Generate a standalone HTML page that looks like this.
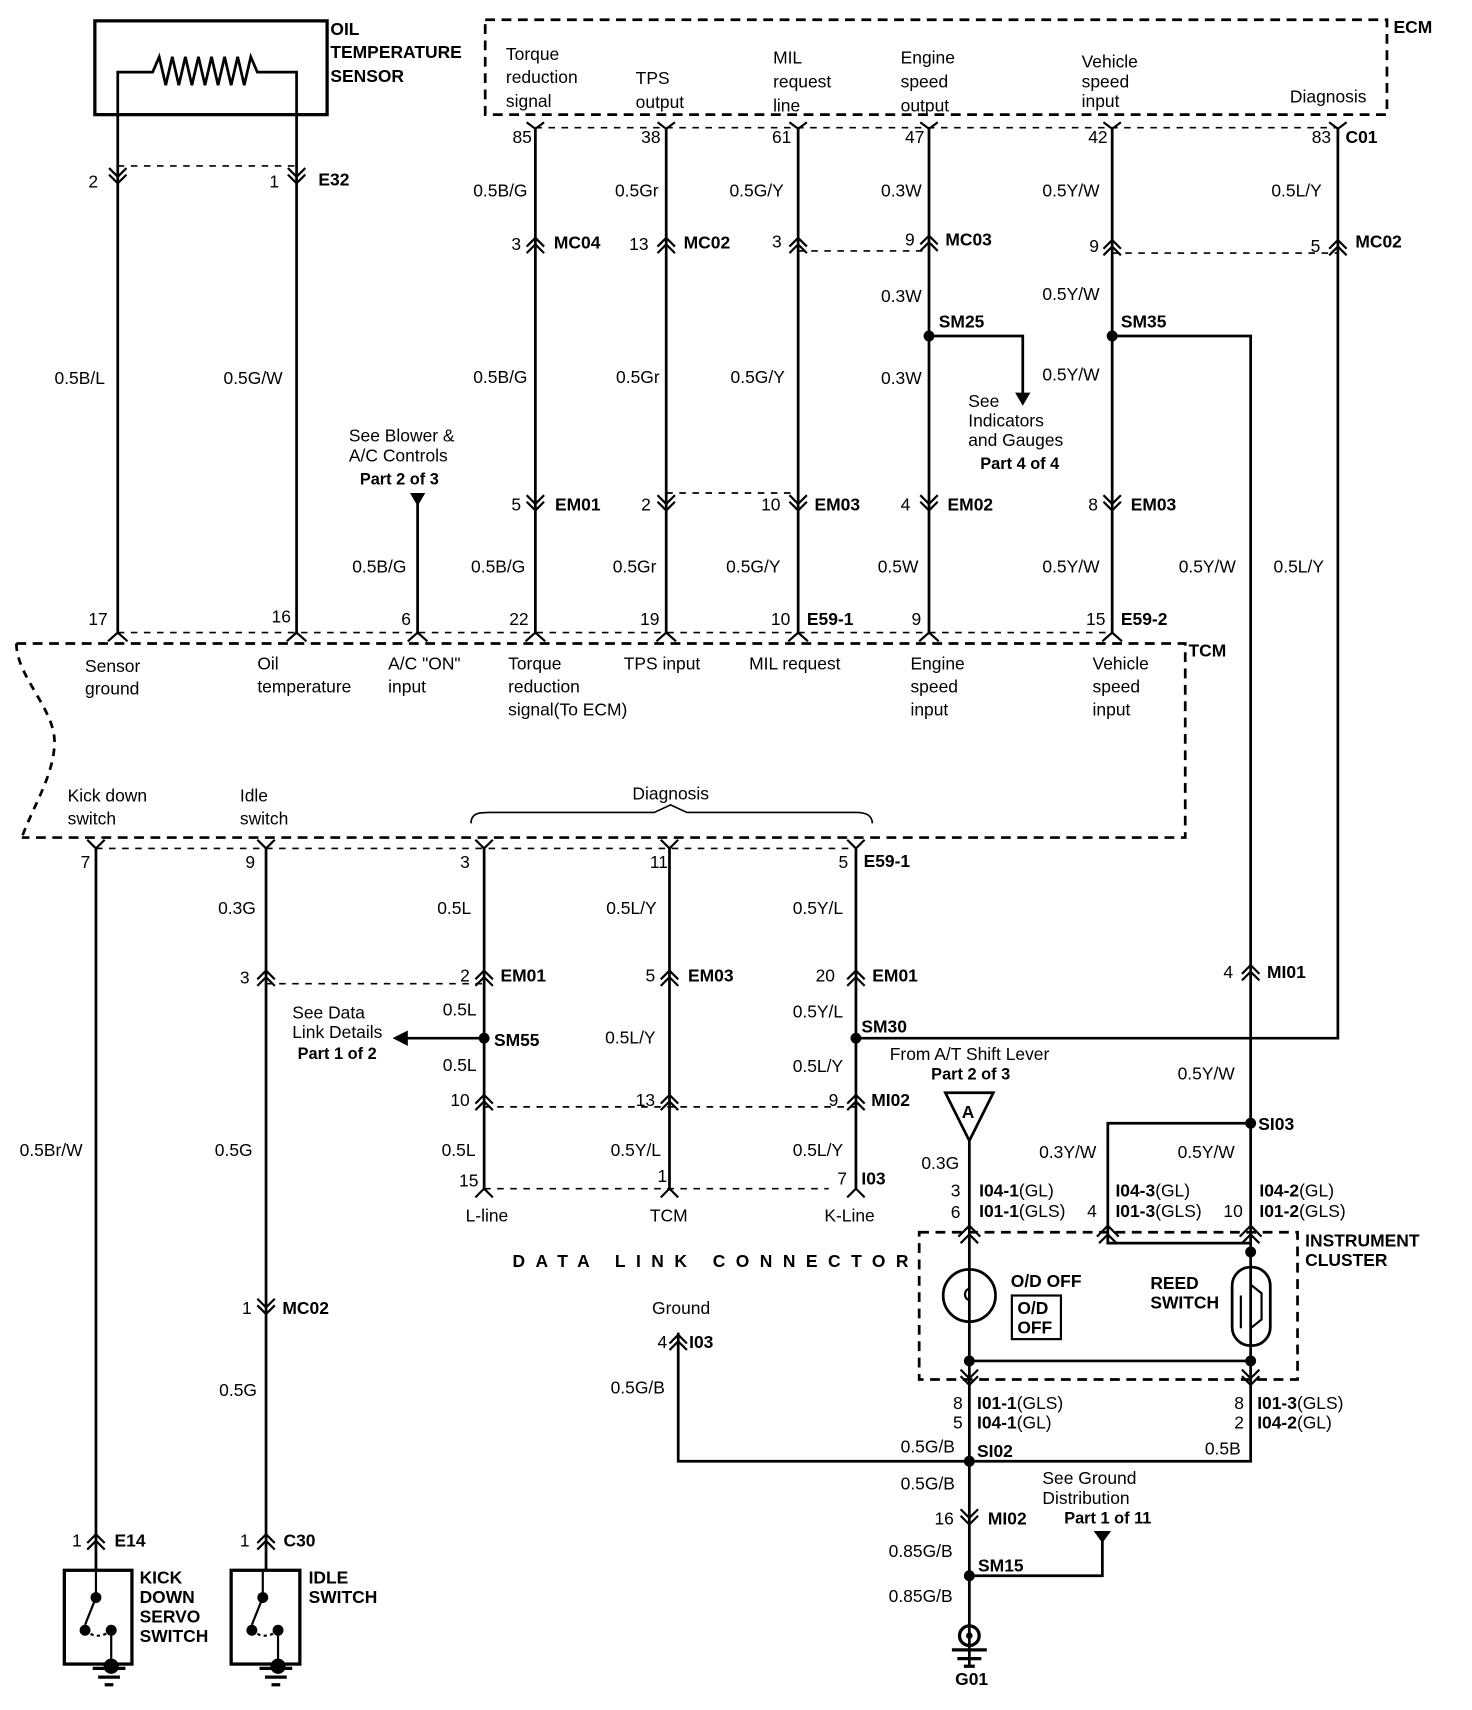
<!DOCTYPE html>
<html><head><meta charset="utf-8"><style>
html,body{margin:0;padding:0;background:#fff}
svg{display:block}
text{font-family:"Liberation Sans",Arial,sans-serif;font-size:16px;fill:#000}
.b{font-weight:bold}
</style></head><body>
<svg width="1472" height="1710" viewBox="0 0 1350 1568" xmlns="http://www.w3.org/2000/svg">
<g fill="none" stroke="#000" stroke-width="2.5">
<rect x="87" y="19" width="213" height="86" stroke-width="3"/>
<path d="M108,105V66H140L146,52L152,78L158,52L164,78L170,52L176,78L182,52L188,78L194,52L200,78L206,52L212,78L218,52L224,78L230,52L236,66H272V105"/>
<path d="M108,105V580M272,105V580"/>
<path d="M445,18H1272V105H445Z" stroke-dasharray="9,6"/>
<path d="M491,117H1227" stroke-dasharray="6,6" stroke-width="1.5"/>
<path d="M108,152H272" stroke-dasharray="6,6" stroke-width="1.5"/>
<path d="M491,117V580M611,117V580M732,117V580M852,117V580M1020,117V580M1227,117V952H785M383,462V580"/>
<path d="M852,308H938V362"/>
<path d="M1020,308H1147V1030"/>
<path d="M611,452H732M732,230H852M1020,232H1227" stroke-dasharray="6,6" stroke-width="1.5"/>
<path d="M15,590H1087V768H20" stroke-dasharray="9,6"/>
<path d="M15,590C15,620 50,650 50,680C50,710 30,740 20,768" stroke-dasharray="7,6"/>
<path d="M108,580H1020M88,778H785" stroke-dasharray="6,6" stroke-width="1.5"/>
<path d="M432,755C432,745 440,745 450,745H600L615,738L630,745H785C795,745 800,748 800,755" stroke-width="1.5"/>
<path d="M88,778V1440M244,778V1440M444,778V1090M614,778V1090M785,778V1090"/>
<path d="M244,902H444M444,1015H785M444,1090H760" stroke-dasharray="6,6" stroke-width="1.5"/>
<path d="M444,952H372"/>
<path d="M889,1046V1528M1147,1030V1340H622V1222M1147,1030H1016V1140H1147"/>
<path d="M843,1130H1190V1265H843Z" stroke-dasharray="9,6"/>
<path d="M889,1248H1147"/>
<path d="M889,1445H1011V1412"/>
<rect x="59" y="1440" width="62" height="86" stroke-width="3"/>
<rect x="212" y="1440" width="63" height="86" stroke-width="3"/>
<path d="M88,1440V1465L78,1490M102,1495V1528M241,1440V1465L231,1490M255,1495V1528" stroke-width="2"/>
<path d="M78,1495Q90,1505 102,1495M231,1495Q243,1505 255,1495" stroke-dasharray="3,3" stroke-width="2"/>
<path d="M85,1530H115M90,1538H110M96,1545H104M238,1530H268M243,1538H263M249,1545H257M873,1513H905M878,1521H900M884,1528H894" stroke-width="3"/>
<circle cx="889" cy="1188" r="24"/>
<path d="M889,1182a4,5 0 1,0 0,10" stroke-width="2"/>
<rect x="928" y="1188" width="45" height="40" stroke-width="2"/>
<rect x="1130" y="1162" width="35" height="72" rx="17"/>
<path d="M1147,1148V1178L1157,1186V1210L1147,1218V1248M1138,1188V1218" stroke-width="2"/>
<path d="M867,1002H911L889,1046Z"/>
<path stroke-width="2" d="
M100,154L108,162L116,154M100,160L108,168L116,160
M264,154L272,162L280,154M264,160L272,168L280,160
M483,454L491,462L499,454M483,460L491,468L499,460
M603,454L611,462L619,454M603,460L611,468L619,460
M724,454L732,462L740,454M724,460L732,468L740,460
M844,454L852,462L860,454M844,460L852,468L860,460
M1012,454L1020,462L1028,454M1012,460L1020,468L1028,460
M236,1191L244,1199L252,1191M236,1197L244,1205L252,1197
M881,1384L889,1392L897,1384M881,1390L889,1398L897,1390
M881,1256L889,1264L897,1256M881,1262L889,1270L897,1262
M1139,1256L1147,1264L1155,1256M1139,1262L1147,1270L1155,1262
M483,226L491,218L499,226M483,232L491,224L499,232
M603,226L611,218L619,226M603,232L611,224L619,232
M724,226L732,218L740,226M724,232L732,224L740,232
M844,224L852,216L860,224M844,230L852,222L860,230
M1012,228L1020,220L1028,228M1012,234L1020,226L1028,234
M1219,228L1227,220L1235,228M1219,234L1227,226L1235,234
M236,898L244,890L252,898M236,904L244,896L252,904
M436,898L444,890L452,898M436,904L444,896L452,904
M606,898L614,890L622,898M606,904L614,896L622,904
M777,898L785,890L793,898M777,904L785,896L793,904
M436,1012L444,1004L452,1012M436,1018L444,1010L452,1018
M606,1012L614,1004L622,1012M606,1018L614,1010L622,1018
M777,1012L785,1004L793,1012M777,1018L785,1010L793,1018
M1139,893L1147,885L1155,893M1139,899L1147,891L1155,899
M80,1415L88,1407L96,1415M80,1421L88,1413L96,1421
M236,1415L244,1407L252,1415M236,1421L244,1413L252,1421
M614,1232L622,1224L630,1232M614,1238L622,1230L630,1238
M879,1134L889,1124L899,1134M881,1140L889,1132L897,1140
M1006,1134L1016,1124L1026,1134M1008,1140L1016,1132L1024,1140
M1137,1134L1147,1124L1157,1134M1139,1140L1147,1132L1155,1140
M99,588L108,580L117,588M263,588L272,580L281,588M374,588L383,580L392,588M482,588L491,580L500,588M602,588L611,580L620,588M723,588L732,580L741,588M843,588L852,580L861,588M1011,588L1020,580L1029,588
M80,770L88,778L96,770M236,770L244,778L252,770M436,770L444,778L452,770M606,770L614,778L622,770M777,770L785,778L793,770
M436,1098L444,1090L452,1098M606,1098L614,1090L622,1098M777,1098L785,1090L793,1098
M483,112L491,118L499,112M603,112L611,118L619,112M724,112L732,118L740,112M844,112L852,118L860,112M1012,112L1020,118L1028,112M1219,112L1227,118L1235,112"/>
</g>
<g fill="#000">
<path d="M376,452H390L383,464Z"/>
<path d="M931,360H945L938,372Z"/>
<path d="M360,952L374,945V959Z"/>
<path d="M1003,1404H1019L1011,1415Z"/>
<circle cx="852" cy="308" r="5"/><circle cx="1020" cy="308" r="5"/>
<circle cx="444" cy="952" r="5"/><circle cx="785" cy="952" r="5"/>
<circle cx="1147" cy="1030" r="5"/><circle cx="1147" cy="1148" r="5"/>
<circle cx="889" cy="1248" r="5"/><circle cx="1147" cy="1248" r="5"/>
<circle cx="889" cy="1340" r="5"/><circle cx="889" cy="1445" r="5"/>
<circle cx="88" cy="1465" r="5"/><circle cx="78" cy="1495" r="5"/><circle cx="102" cy="1495" r="5"/>
<circle cx="241" cy="1465" r="5"/><circle cx="231" cy="1495" r="5"/><circle cx="255" cy="1495" r="5"/>
<circle cx="102" cy="1528" r="7"/><circle cx="255" cy="1528" r="7"/>
<circle cx="889" cy="1500" r="9" fill="none" stroke="#000" stroke-width="3"/><circle cx="889" cy="1500" r="3"/>
</g>
<text x="303" y="32" class="b">OIL</text><text x="303" y="53" class="b">TEMPERATURE</text><text x="303" y="75" class="b">SENSOR</text>
<text x="1278" y="30" class="b">ECM</text>
<text x="464" y="55">Torque</text><text x="464" y="76">reduction</text><text x="464" y="98">signal</text>
<text x="583" y="77">TPS</text><text x="583" y="99">output</text>
<text x="709" y="58">MIL</text><text x="709" y="80">request</text><text x="709" y="102">line</text>
<text x="826" y="58">Engine</text><text x="826" y="80">speed</text><text x="826" y="102">output</text>
<text x="992" y="62">Vehicle</text><text x="992" y="80">speed</text><text x="992" y="98">input</text>
<text x="1183" y="94">Diagnosis</text>
<text x="470" y="131">85</text><text x="588" y="131">38</text><text x="708" y="131">61</text><text x="830" y="131">47</text><text x="998" y="131">42</text><text x="1203" y="131">83</text><text x="1234" y="131" class="b">C01</text>
<text x="81" y="172">2</text><text x="247" y="172">1</text><text x="292" y="170" class="b">E32</text>
<text x="434" y="180">0.5B/G</text><text x="564" y="180">0.5Gr</text><text x="669" y="180">0.5G/Y</text><text x="808" y="180">0.3W</text><text x="956" y="180">0.5Y/W</text><text x="1166" y="180">0.5L/Y</text>
<text x="469" y="229">3</text><text x="508" y="228" class="b">MC04</text>
<text x="577" y="229">13</text><text x="627" y="228" class="b">MC02</text>
<text x="708" y="227">3</text>
<text x="830" y="225">9</text><text x="867" y="225" class="b">MC03</text>
<text x="999" y="231">9</text><text x="1202" y="231">5</text><text x="1243" y="227" class="b">MC02</text>
<text x="808" y="277">0.3W</text><text x="956" y="275">0.5Y/W</text>
<text x="861" y="300" class="b">SM25</text><text x="1028" y="300" class="b">SM35</text>
<text x="50" y="352">0.5B/L</text><text x="205" y="352">0.5G/W</text>
<text x="434" y="351">0.5B/G</text><text x="565" y="351">0.5Gr</text><text x="670" y="351">0.5G/Y</text><text x="808" y="352">0.3W</text><text x="956" y="349">0.5Y/W</text>
<text x="888" y="373">See</text><text x="888" y="391">Indicators</text><text x="888" y="409">and Gauges</text><text x="899" y="430" style="font-size:15px;font-weight:bold">Part 4 of 4</text>
<text x="320" y="405">See Blower &amp;</text><text x="320" y="423">A/C Controls</text><text x="330" y="444" style="font-size:15px;font-weight:bold">Part 2 of 3</text>
<text x="469" y="468">5</text><text x="509" y="468" class="b">EM01</text>
<text x="588" y="468">2</text><text x="698" y="468">10</text><text x="747" y="468" class="b">EM03</text>
<text x="826" y="468">4</text><text x="869" y="468" class="b">EM02</text>
<text x="998" y="468">8</text><text x="1037" y="468" class="b">EM03</text>
<text x="323" y="525">0.5B/G</text><text x="432" y="525">0.5B/G</text><text x="562" y="525">0.5Gr</text><text x="666" y="525">0.5G/Y</text><text x="805" y="525">0.5W</text><text x="956" y="525">0.5Y/W</text><text x="1081" y="525">0.5Y/W</text><text x="1168" y="525">0.5L/Y</text>
<text x="81" y="573">17</text><text x="249" y="571">16</text><text x="368" y="573">6</text><text x="467" y="573">22</text><text x="587" y="573">19</text><text x="707" y="573">10</text><text x="740" y="573" class="b">E59-1</text><text x="836" y="573">9</text><text x="996" y="573">15</text><text x="1028" y="573" class="b">E59-2</text>
<text x="1090" y="602" class="b">TCM</text>
<text x="78" y="616">Sensor</text><text x="78" y="637">ground</text>
<text x="236" y="614">Oil</text><text x="236" y="635">temperature</text>
<text x="356" y="614">A/C "ON"</text><text x="356" y="635">input</text>
<text x="466" y="614">Torque</text><text x="466" y="635">reduction</text><text x="466" y="656">signal(To ECM)</text>
<text x="572" y="614">TPS input</text><text x="687" y="614">MIL request</text>
<text x="835" y="614">Engine</text><text x="835" y="635">speed</text><text x="835" y="656">input</text>
<text x="1002" y="614">Vehicle</text><text x="1002" y="635">speed</text><text x="1002" y="656">input</text>
<text x="62" y="735">Kick down</text><text x="62" y="756">switch</text>
<text x="220" y="735">Idle</text><text x="220" y="756">switch</text>
<text x="580" y="733">Diagnosis</text>
<text x="74" y="796">7</text><text x="225" y="796">9</text><text x="422" y="796">3</text><text x="596" y="796">11</text><text x="769" y="796">5</text><text x="792" y="795" class="b">E59-1</text>
<text x="200" y="838">0.3G</text><text x="401" y="838">0.5L</text><text x="556" y="838">0.5L/Y</text><text x="727" y="838">0.5Y/L</text>
<text x="1122" y="897">4</text><text x="1162" y="897" class="b">MI01</text>
<text x="220" y="902">3</text><text x="422" y="900">2</text><text x="459" y="900" class="b">EM01</text>
<text x="592" y="900">5</text><text x="631" y="900" class="b">EM03</text>
<text x="748" y="900">20</text><text x="800" y="900" class="b">EM01</text>
<text x="406" y="931">0.5L</text><text x="727" y="933">0.5Y/L</text>
<text x="268" y="934">See Data</text><text x="268" y="952">Link Details</text><text x="273" y="971" style="font-size:15px;font-weight:bold">Part 1 of 2</text>
<text x="453" y="959" class="b">SM55</text><text x="790" y="947" class="b">SM30</text>
<text x="555" y="957">0.5L/Y</text>
<text x="816" y="972">From A/T Shift Lever</text><text x="854" y="990" style="font-size:15px;font-weight:bold">Part 2 of 3</text>
<text x="406" y="982">0.5L</text><text x="727" y="983">0.5L/Y</text><text x="1080" y="990">0.5Y/W</text>
<text x="882" y="1025" class="b">A</text>
<text x="413" y="1014">10</text><text x="583" y="1014">13</text><text x="760" y="1014">9</text><text x="799" y="1014" class="b">MI02</text>
<text x="1154" y="1036" class="b">SI03</text>
<text x="18" y="1060">0.5Br/W</text><text x="197" y="1060">0.5G</text><text x="405" y="1060">0.5L</text><text x="560" y="1060">0.5Y/L</text><text x="727" y="1060">0.5L/Y</text>
<text x="953" y="1062">0.3Y/W</text><text x="1080" y="1062">0.5Y/W</text><text x="845" y="1072">0.3G</text>
<text x="421" y="1088">15</text><text x="603" y="1084">1</text><text x="768" y="1086">7</text><text x="790" y="1086" class="b">I03</text>
<text x="872" y="1097">3</text><text x="898" y="1097"><tspan class="b">I04-1</tspan>(GL)</text>
<text x="872" y="1117">6</text><text x="898" y="1116"><tspan class="b">I01-1</tspan>(GLS)</text>
<text x="997" y="1116">4</text>
<text x="1023" y="1097"><tspan class="b">I04-3</tspan>(GL)</text><text x="1023" y="1116"><tspan class="b">I01-3</tspan>(GLS)</text>
<text x="1122" y="1116">10</text>
<text x="1155" y="1097"><tspan class="b">I04-2</tspan>(GL)</text><text x="1155" y="1116"><tspan class="b">I01-2</tspan>(GLS)</text>
<text x="427" y="1120">L-line</text><text x="596" y="1120">TCM</text><text x="756" y="1120">K-Line</text>
<text x="1197" y="1143" class="b">INSTRUMENT</text><text x="1197" y="1161" class="b">CLUSTER</text>
<text x="470" y="1162" class="b" style="letter-spacing:9.6px">DATA LINK CONNECTOR</text>
<text x="927" y="1180" class="b">O/D OFF</text>
<text x="933" y="1205" class="b">O/D</text><text x="933" y="1223" class="b">OFF</text>
<text x="1055" y="1182" class="b">REED</text><text x="1055" y="1200" class="b">SWITCH</text>
<text x="598" y="1205">Ground</text>
<text x="222" y="1205">1</text><text x="259" y="1205" class="b">MC02</text>
<text x="603" y="1236">4</text><text x="632" y="1236" class="b">I03</text>
<text x="560" y="1278">0.5G/B</text><text x="201" y="1280">0.5G</text>
<text x="874" y="1292">8</text><text x="896" y="1292"><tspan class="b">I01-1</tspan>(GLS)</text>
<text x="874" y="1310">5</text><text x="896" y="1310"><tspan class="b">I04-1</tspan>(GL)</text>
<text x="1132" y="1292">8</text><text x="1153" y="1292"><tspan class="b">I01-3</tspan>(GLS)</text>
<text x="1132" y="1310">2</text><text x="1153" y="1310"><tspan class="b">I04-2</tspan>(GL)</text>
<text x="826" y="1332">0.5G/B</text><text x="896" y="1336" class="b">SI02</text><text x="1105" y="1334">0.5B</text>
<text x="826" y="1366">0.5G/B</text>
<text x="956" y="1361">See Ground</text><text x="956" y="1379">Distribution</text><text x="976" y="1397" style="font-size:15px;font-weight:bold">Part 1 of 11</text>
<text x="857" y="1398">16</text><text x="906" y="1398" class="b">MI02</text>
<text x="66" y="1418">1</text><text x="105" y="1418" class="b">E14</text>
<text x="220" y="1418">1</text><text x="260" y="1418" class="b">C30</text>
<text x="815" y="1428">0.85G/B</text><text x="897" y="1441" class="b">SM15</text>
<text x="128" y="1452" class="b">KICK</text><text x="128" y="1470" class="b">DOWN</text><text x="128" y="1488" class="b">SERVO</text><text x="128" y="1506" class="b">SWITCH</text>
<text x="283" y="1452" class="b">IDLE</text><text x="283" y="1470" class="b">SWITCH</text>
<text x="815" y="1469">0.85G/B</text>
<text x="876" y="1545" class="b">G01</text>
</svg>
</body></html>
